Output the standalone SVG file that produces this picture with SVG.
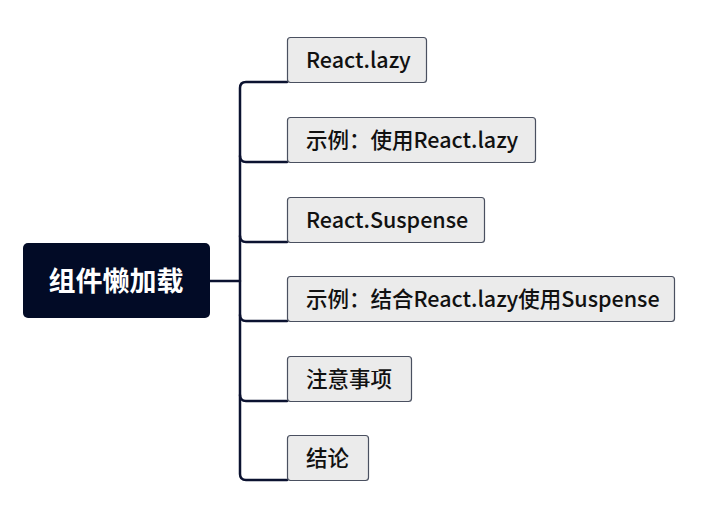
<svg xmlns="http://www.w3.org/2000/svg" width="705" height="512" viewBox="0 0 705 512">
<style>
.conn{fill:none;stroke:#0b1230;stroke-width:2.5;stroke-linecap:round}
.node rect{fill:#ebebeb;stroke:#4a5060;stroke-width:1.2}
.node text{font-family:"Noto Sans CJK SC","Noto Sans",sans-serif;font-size:21.5px;font-weight:500;fill:#111}
.root rect{fill:#020b26}
.root text{font-family:"Noto Sans CJK SC","Noto Sans",sans-serif;font-size:27px;font-weight:bold;fill:#fff}
</style>
<rect width="705" height="512" fill="#fff"/>
<g id="connectors">
<path class="conn" d="M210 281 H240"/>
<path class="conn" d="M287 82 H246 Q240 82 240 88 V474 Q240 480 246 480 H287"/>
<path class="conn" d="M287 162 H246 Q240 162 240 156"/>
<path class="conn" d="M287 242 H246 Q240 242 240 236"/>
<path class="conn" d="M287 321 H246 Q240 321 240 315"/>
<path class="conn" d="M287 401 H246 Q240 401 240 395"/>
</g>
<g id="root" class="root">
<rect x="23" y="243" width="187" height="75" rx="5"/>
<text x="116" y="291" text-anchor="middle">组件懒加载</text>
</g>
<g id="n1" class="node">
<rect x="287.5" y="37.5" width="139" height="45" rx="3"/>
<text x="306" y="68">React.lazy</text>
</g>
<g id="n2" class="node">
<rect x="287.5" y="117.5" width="248" height="45" rx="3"/>
<text x="306" y="148">示例：使用React.lazy</text>
</g>
<g id="n3" class="node">
<rect x="287.5" y="197.5" width="197" height="45" rx="3"/>
<text x="306" y="228">React.Suspense</text>
</g>
<g id="n4" class="node">
<rect x="287.5" y="276.5" width="387" height="45" rx="3"/>
<text x="306" y="307">示例：结合React.lazy使用Suspense</text>
</g>
<g id="n5" class="node">
<rect x="287.5" y="356.5" width="124" height="45" rx="3"/>
<text x="306" y="387">注意事项</text>
</g>
<g id="n6" class="node">
<rect x="287.5" y="435.5" width="81" height="45" rx="3"/>
<text x="306" y="466">结论</text>
</g>
</svg>
